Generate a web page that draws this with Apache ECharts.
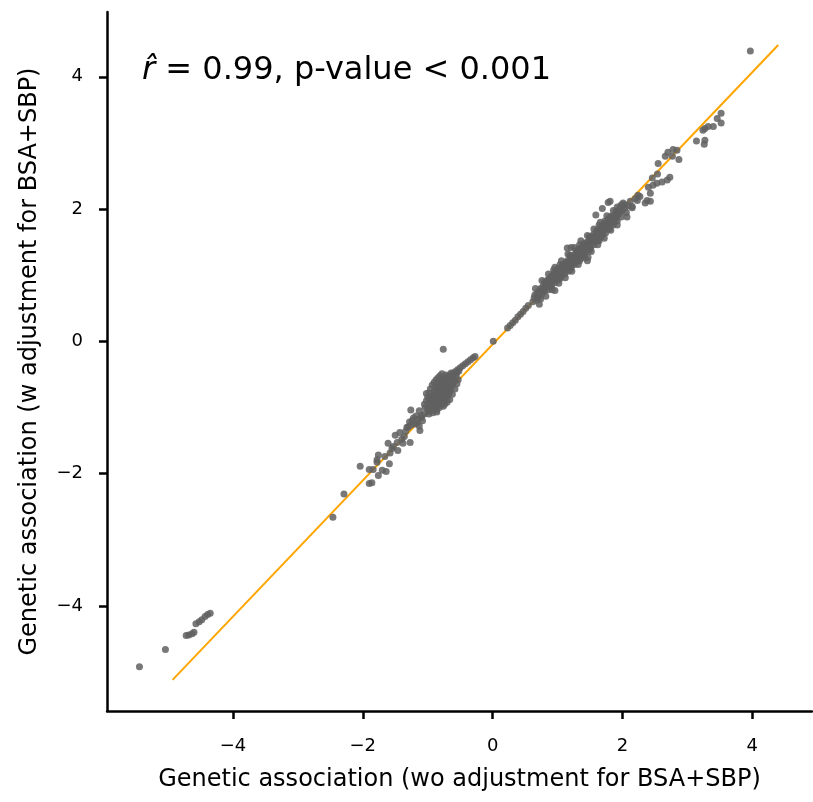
<!DOCTYPE html>
<html>
<head>
<meta charset="utf-8">
<script src="https://cdn.jsdelivr.net/npm/echarts@6/dist/echarts.min.js"></script>
<style>html,body{margin:0;padding:0;background:#fff}#c{width:813px;height:802px}</style>
</head>
<body>
<div id="c"></div>
<script>
// ---- data ----
var xTicks = [-4, -2, 0, 2, 4];
var yTicks = [-4, -2, 0, 2, 4];
var xTitle = 'Genetic association (wo adjustment for BSA+SBP)';
var yTitle = 'Genetic association (w adjustment for BSA+SBP)';
var fitX = [-4.93, 4.40];
var fitY = [-5.12, 4.48];

var lowTail = [[-5.44,-4.92],[-5.04,-4.66],[-4.72,-4.45],[-4.68,-4.44],[-4.63,-4.42],[-4.60,-4.40],
  [-4.57,-4.27],[-4.52,-4.24],[-4.48,-4.21],[-4.43,-4.16],[-4.39,-4.13],[-4.35,-4.11],
  [-2.46,-2.66],[-2.29,-2.31]];

var lowSparse = [[-2.04,-1.89],[-1.90,-2.15],[-1.86,-2.14],[-1.90,-1.94],[-1.84,-1.94],[-1.76,-2.03],
  [-1.70,-1.95],[-1.64,-1.97],[-1.78,-1.83],[-1.76,-1.72],[-1.78,-1.79],[-1.59,-1.85],[-1.58,-1.69],
  [-1.61,-1.54],[-1.53,-1.59],[-1.47,-1.53],[-1.50,-1.42],[-1.43,-1.38],[-1.46,-1.65],[-1.38,-1.54],
  [-1.27,-1.53],[-1.30,-1.30],[-1.24,-1.20],[-1.16,-1.24],[-1.12,-1.35],[-1.09,-1.12],[-1.32,-1.30],
  [-1.26,-1.27],[-1.20,-1.25],[-1.15,-1.18],[-1.13,-1.28],[-1.26,-1.04],[-1.13,-1.05],[-1.02,-0.79],
  [-0.98,-0.88],[-1.10,-1.15],[-1.05,-1.10],[-1.18,-1.13],[-1.08,-1.20],[-1.22,-1.16],[-1.28,-1.22],
  [-1.36,-1.44],[-1.40,-1.48],[-1.34,-1.36],[-1.55,-1.62],[-1.66,-1.74]];

var lowBlob = [[-0.98,-1.10],[-0.95,-1.05],[-0.92,-1.08],[-0.90,-1.00],[-0.96,-0.98],[-0.93,-0.95],
  [-0.88,-0.97],[-0.86,-1.04],[-0.90,-0.90],[-0.87,-0.92],[-0.84,-0.95],[-0.94,-0.88],[-0.89,-0.85],
  [-0.85,-0.88],[-0.82,-0.90],[-0.80,-0.96],[-0.92,-0.82],[-0.87,-0.80],[-0.84,-0.83],[-0.81,-0.85],
  [-0.78,-0.88],[-0.90,-0.76],[-0.86,-0.75],[-0.83,-0.78],[-0.80,-0.80],[-0.77,-0.82],[-0.75,-0.86],
  [-0.88,-0.70],[-0.84,-0.70],[-0.81,-0.73],[-0.78,-0.75],[-0.75,-0.77],[-0.73,-0.80],[-0.85,-0.64],
  [-0.82,-0.66],[-0.79,-0.68],[-0.76,-0.70],[-0.73,-0.72],[-0.70,-0.75],[-0.80,-0.60],[-0.77,-0.62],
  [-0.74,-0.65],[-0.71,-0.67],[-0.68,-0.70],[-0.76,-0.56],[-0.73,-0.58],[-0.70,-0.60],[-0.67,-0.63],
  [-0.65,-0.57],[-0.69,-0.53],[-0.72,-0.51],[-0.62,-0.55],[-0.95,-0.83],[-0.97,-0.92],[-1.00,-1.02],
  [-0.82,-1.00],[-0.78,-0.93],[-0.76,-0.98],[-0.86,-1.07],[-0.99,-1.06],
  [-1.05,-0.95],[-1.02,-0.90],[-1.04,-1.00],[-0.70,-0.85],[-0.68,-0.80],[-0.66,-0.76],[-0.64,-0.70],
  [-0.62,-0.66],[-0.60,-0.62],[-0.58,-0.58],[-0.56,-0.52],[-0.60,-0.50],[-0.64,-0.48],[-0.55,-0.47],
  [-0.52,-0.45],[-0.72,-0.90],[-0.74,-0.95],[-0.70,-0.92],[-0.96,-0.72],[-0.93,-0.66],[-0.90,-0.62],
  [-0.87,-0.58],[-0.84,-0.55],[-0.81,-0.52],[-0.78,-0.49],[-0.98,-0.78],[-1.00,-0.84],[-0.66,-0.88],
  [-0.62,-0.80],[-0.58,-0.72],[-0.55,-0.64],[-0.53,-0.58]];

var midBand = [[-0.66,-0.52],[-0.62,-0.49],[-0.58,-0.46],[-0.54,-0.43],[-0.50,-0.40],[-0.46,-0.37],
  [-0.42,-0.34],[-0.38,-0.31],[-0.34,-0.28],[-0.30,-0.25],[-0.27,-0.23],[-0.76,-0.12],[0.01,0.00],
  [0.23,0.20],[0.27,0.24],[0.31,0.28],[0.35,0.32],[0.39,0.37],[0.43,0.41],[0.47,0.45],[0.51,0.50],[0.55,0.54]];

var upBand = [[0.62,0.60],[0.65,0.70],[0.68,0.62],[0.70,0.75],[0.72,0.68],[0.74,0.80],[0.76,0.72],
  [0.78,0.84],[0.80,0.76],[0.80,0.90],[0.83,0.82],[0.85,0.93],[0.86,0.78],[0.88,0.88],[0.90,0.98],
  [0.91,0.84],[0.93,0.93],[0.95,1.03],[0.96,0.89],[0.98,0.99],[1.00,1.08],[1.01,0.93],[1.03,1.02],
  [1.05,1.12],[1.06,0.98],[1.08,1.07],[1.10,1.17],[1.11,1.02],[1.13,1.12],[1.15,1.22],[1.16,1.06],
  [1.18,1.17],[1.20,1.27],[1.21,1.11],[1.23,1.22],[1.25,1.31],[1.26,1.16],[1.28,1.26],[1.30,1.36],
  [1.31,1.21],[1.33,1.31],[1.35,1.41],[1.36,1.26],[1.38,1.36],[1.40,1.46],[1.41,1.31],[1.43,1.41],
  [1.45,1.50],[1.46,1.36],[1.48,1.46],[1.50,1.56],[1.51,1.41],[1.53,1.51],[1.55,1.61],[1.56,1.46],
  [1.58,1.56],[1.60,1.66],[1.62,1.52],[1.64,1.62],[1.66,1.72],[1.68,1.58],[1.70,1.68],[1.72,1.78],
  [1.74,1.64],[1.76,1.74],[1.78,1.84],[1.80,1.70],[1.82,1.80],[1.84,1.90],[1.86,1.76],[1.88,1.86],
  [1.90,1.96],[1.92,1.82],[1.94,1.92],[1.96,2.02],[1.98,1.88],[2.00,1.98],[2.03,2.07],[2.06,1.95],
  [2.09,2.05],[2.12,2.12],[2.15,2.02],
  [0.70,0.66],[0.75,0.76],[0.82,0.86],[0.87,0.83],[0.92,0.96],[0.97,0.94],[1.02,1.05],[1.07,1.02],
  [1.12,1.15],[1.17,1.12],[1.22,1.25],[1.27,1.21],[1.32,1.35],[1.37,1.31],[1.42,1.45],[1.47,1.41],
  [1.52,1.55],[1.57,1.51],[1.62,1.65],[1.67,1.62],[1.72,1.74],[1.77,1.70],[1.82,1.85],[1.87,1.81],
  [1.93,1.97],[0.78,0.78],[0.84,0.90],[0.99,1.04],[1.14,1.18],[1.29,1.30],[1.44,1.46],[1.59,1.60],
  [1.74,1.76],[1.89,1.91]];

var upEdge = [[0.66,0.80],[0.72,0.56],[0.76,0.92],[0.82,0.68],[0.86,1.02],[0.92,0.78],[0.96,1.12],
  [1.02,0.88],[1.06,1.22],[1.12,0.96],[1.16,1.32],[1.22,1.06],[1.26,1.42],[1.32,1.16],[1.36,1.52],
  [1.42,1.26],[1.46,1.60],[1.52,1.36],[1.56,1.70],[1.62,1.46],[1.66,1.80],[1.72,1.56],[1.76,1.90],
  [1.82,1.68],[1.86,1.98],[1.92,1.76],[1.98,2.06],[0.88,0.95],[0.94,1.08],[1.04,1.16],[1.09,1.10],
  [1.19,1.30],[1.24,1.18],[1.34,1.46],[1.39,1.40],[1.49,1.58],[1.54,1.50],[1.64,1.76],[1.69,1.68],
  [1.79,1.86],[1.84,1.78],[0.74,0.64],[0.89,0.82],[1.04,0.95],[1.19,1.08],[1.34,1.22],[1.49,1.38],
  [1.64,1.52]];

var upFill = [[0.64,0.66],[0.69,0.72],[0.73,0.73],[0.77,0.80],[0.81,0.81],[0.85,0.86],[0.89,0.92],
  [0.93,0.99],[0.97,1.00],[1.01,1.10],[1.05,1.05],[1.09,1.14],[1.13,1.19],[1.17,1.20],[1.21,1.28],
  [1.25,1.24],[1.29,1.37],[1.33,1.39],[1.37,1.40],[1.41,1.48],[1.45,1.44],[1.49,1.52],[1.53,1.58],
  [1.57,1.58],[1.61,1.68],[1.65,1.66],[1.69,1.73],[1.73,1.82],[1.77,1.79],[1.81,1.88],[1.85,1.85],
  [1.91,1.90],[1.97,1.96],[2.04,2.02],[0.95,0.92],[1.00,0.97],[1.10,1.06],[1.20,1.15],[1.30,1.24],
  [1.40,1.34],[1.50,1.44],[1.60,1.54],[1.70,1.63],[1.80,1.74],[1.90,1.86]];

var upSparse = [[0.96,0.77],[1.15,1.41],[1.21,1.42],[1.47,1.27],[1.46,1.22],[1.69,2.01],[1.78,2.10],
  [1.59,1.91],[1.81,2.12],[1.92,2.03],[2.07,1.88],[2.01,2.09],[2.20,2.16],[2.23,2.13],[2.24,2.21],
  [2.35,2.09],[2.38,2.13],[2.43,2.24],[2.40,2.33],[2.47,2.36],[2.53,2.39],[2.61,2.41],[2.69,2.44],
  [2.73,2.48],[2.46,2.47],[2.54,2.53],[2.55,2.69],[2.66,2.80],[2.70,2.86],[2.78,2.90],[2.84,2.89],
  [2.77,2.80],[2.87,2.75],[3.14,3.03],[3.27,3.04],[3.26,2.98],[3.24,3.19],[3.27,3.22],[3.32,3.25],
  [3.40,3.25],[3.46,3.37],[3.52,3.45],[3.52,3.30],[3.97,4.39],[2.15,2.04],[2.27,2.19],[2.43,2.12]];

var allPts = [].concat(lowTail, lowSparse, lowBlob, midBand, upBand, upEdge, upFill, upSparse);

function fmt(v){ return v < 0 ? '\u2212' + Math.abs(v) : String(v); }
var FONT = 'DejaVu Sans';

var chart = echarts.init(document.getElementById('c'), null, {renderer:'canvas'});
chart.setOption({
  animation: false,
  backgroundColor: '#fff',
  grid: {left: 107, top: 12, width: 705, height: 699, containLabel: false},
  xAxis: {
    type: 'value', min: -5.94, max: 4.92,
    name: xTitle, nameLocation: 'middle', nameGap: 57,
    nameTextStyle: {fontFamily: FONT, fontSize: 24, color: '#000'},
    axisLine: {show: true, onZero: false, lineStyle: {color: '#000', width: 2.5}},
    axisTick: {show: true, length: 8, customValues: xTicks, lineStyle: {color: '#000', width: 2.5}},
    axisLabel: {customValues: xTicks, formatter: fmt, fontFamily: FONT, fontSize: 18, color: '#000', margin: 26},
    splitLine: {show: false}
  },
  yAxis: {
    type: 'value', min: -5.59, max: 4.98,
    name: yTitle, nameLocation: 'middle', nameGap: 65,
    nameTextStyle: {fontFamily: FONT, fontSize: 24, color: '#000'},
    axisLine: {show: true, onZero: false, lineStyle: {color: '#000', width: 2.5}},
    axisTick: {show: true, length: 8, customValues: yTicks, lineStyle: {color: '#000', width: 2.5}},
    axisLabel: {customValues: yTicks, formatter: fmt, fontFamily: FONT, fontSize: 18, color: '#000', margin: 24},
    splitLine: {show: false}
  },
  graphic: [{
    type: 'text', left: 142, top: 55,
    style: {
      text: '{i|r\u0302} = 0.99, p-value < 0.001',
      font: '32px "DejaVu Sans"', fill: '#000',
      rich: {i: {fontFamily: FONT, fontStyle: 'italic', fontSize: 32, fill: '#000'}}
    }
  }],
  series: [{
    type: 'line', data: fitX.map(function(x,i){return [x, fitY[i]];}),
    symbol: 'none', lineStyle: {color: '#FFA500', width: 2}, z: 1, silent: true
  }, {
    type: 'scatter', data: allPts, symbolSize: 7,
    itemStyle: {color: '#606060', opacity: 0.85}, z: 2, silent: true
  }]
});
</script>
</body>
</html>
